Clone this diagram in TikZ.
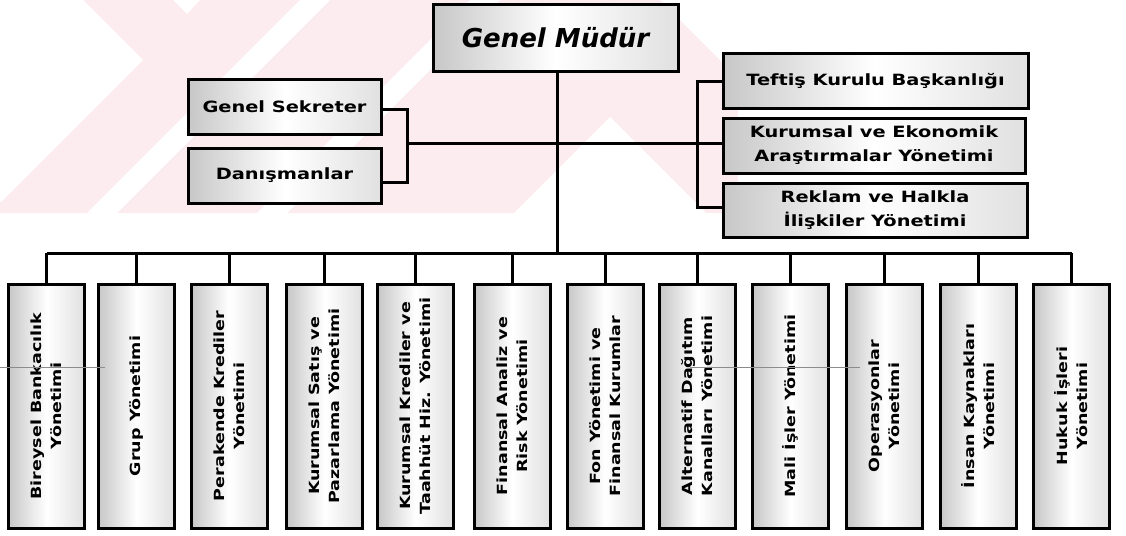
\documentclass[tikz,border=0pt]{standalone}
\usepackage{fontspec}
\setmainfont{DejaVu Sans}
\newfontfamily\bx[FakeStretch=1.25]{DejaVu Sans}
\definecolor{wmpink}{RGB}{253,236,239}
\tikzset{
  unit/.style={draw=black, line width=3pt, line join=miter,
    left color=black!22, right color=black!12, middle color=white,
    inner sep=2pt, align=center, font=\bx\bfseries\fontsize{15.5}{24}\selectfont},
  topbox/.style={unit, minimum width=245pt, minimum height=66pt,
    font=\bfseries\itshape\fontsize{26}{30}\selectfont},
  sidebox/.style={unit, minimum height=55pt},
  colbox/.style={unit, minimum width=76pt, minimum height=244pt},
  coltext/.style={rotate=90, align=center, font=\bx\bfseries\fontsize{14}{20}\selectfont},
  link/.style={draw=black, line width=3pt, line join=miter},
  scanline/.style={draw=black!45, line width=1pt}
}
\begin{document}
\begin{tikzpicture}[x=1pt,y=-1pt]
\useasboundingbox (0,0) rectangle (1126,535);
% faint watermark
\begin{scope}
\clip (0,0) rectangle (738,213);
\fill[wmpink, even odd rule]
  (0,0) rectangle (738,213)
  (0,0) -- (83,0) -- (143,60) -- (0,203) -- cycle;
\fill[white] (300,0) -- (330,0) -- (117,213) -- (87,213) -- cycle;
\fill[white] (470,0) -- (500,0) -- (287,213) -- (257,213) -- cycle;
\fill[white] (173,0) -- (187,14) -- (200,0) -- cycle;
\fill[white] (610,117) -- (706,213) -- (514,213) -- cycle;
\fill[white] (660,0) -- (738,0) -- (738,78) -- cycle;
\end{scope}

\node[topbox] (gm) at (555.5,38) {Genel Müdür};

\node[sidebox, minimum width=193pt] (gs) at (284.5,106.5) {Genel Sekreter};
\node[sidebox, minimum width=193pt] (dn) at (284.5,175.5) {Danışmanlar};

\node[sidebox, minimum width=305pt, minimum height=54pt] (tk) at (875.5,81) {Teftiş Kurulu Başkanlığı};
\node[sidebox, minimum width=302pt] (ke) at (874,145.5) {Kurumsal ve Ekonomik\\Araştırmalar Yönetimi};
\node[sidebox, minimum width=304pt, minimum height=54pt] (rh) at (875,210) {Reklam ve Halkla\\İlişkiler Yönetimi};

\node[colbox] (b1) at (46.5,406) {};
\node[colbox] (b2) at (136.5,406) {};
\node[colbox] (b3) at (229,406) {};
\node[colbox] (b4) at (324.5,406) {};
\node[colbox] (b5) at (415.5,406) {};
\node[colbox] (b6) at (512,406) {};
\node[colbox] (b7) at (605,406) {};
\node[colbox] (b8) at (697.5,406) {};
\node[colbox] (b9) at (790.5,406) {};
\node[colbox] (b10) at (884.5,406) {};
\node[colbox] (b11) at (978,406) {};
\node[colbox] (b12) at (1071.5,406) {};

\node[coltext] (t1) at (b1) {Bireysel Bankacılık\\Yönetimi};
\node[coltext] (t2) at (b2) {Grup Yönetimi};
\node[coltext] (t3) at (b3) {Perakende Krediler\\Yönetimi};
\node[coltext] (t4) at (b4) {Kurumsal Satış ve\\Pazarlama Yönetimi};
\node[coltext] (t5) at (b5) {Kurumsal Krediler ve\\Taahhüt Hiz. Yönetimi};
\node[coltext] (t6) at (b6) {Finansal Analiz ve\\Risk Yönetimi};
\node[coltext] (t7) at (b7) {Fon Yönetimi ve\\Finansal Kurumlar};
\node[coltext] (t8) at (b8) {Alternatif Dağıtım\\Kanalları Yönetimi};
\node[coltext] (t9) at (b9) {Mali İşler Yönetimi};
\node[coltext] (t10) at (b10) {Operasyonlar\\Yönetimi};
\node[coltext] (t11) at (b11) {İnsan Kaynakları\\Yönetimi};
\node[coltext] (t12) at (b12) {Hukuk İşleri\\Yönetimi};

% junctions
\coordinate (bus) at (557,253);
\coordinate (lj) at (407,143);
\coordinate (rj) at (697,143);

% trunk and bus
\draw[link] (gm.south -| bus) -- (bus);
\draw[link] (b1.north |- bus) -- (b12.north |- bus);
\foreach \i in {1,...,12} {\draw[link] (b\i.north) -- (b\i.north |- bus);}

% staff level
\draw[link] (lj) -- (rj);
\draw[link] ([yshift=-2.5pt]gs.east) -| (lj);
\draw[link] ([yshift=-6.5pt]dn.east) -| (lj);
\draw[link] (rj) |- (tk.west);
\draw[link] (rj) -- (ke.west |- rj);
\draw[link] (rj) |- ([yshift=3pt]rh.west);

% scan artefact line
\draw[scanline] (0,367) -- (105,367);
\draw[scanline] (690,367) -- (860,367);
\end{tikzpicture}
\end{document}
